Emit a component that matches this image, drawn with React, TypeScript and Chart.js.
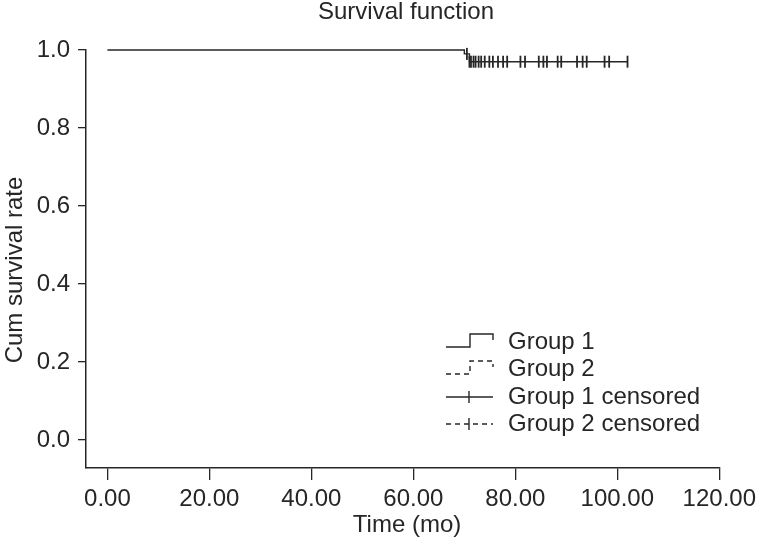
import React, { useEffect, useRef } from "react";
import { Chart, registerables } from "chart.js";

Chart.register(...registerables);

const chartTitle = "Survival function";
const xAxisTitle = "Time (mo)";
const yAxisTitle = "Cum survival rate";
const xTicks = [0, 20, 40, 60, 80, 100, 120];
const yTicks = [0, 0.2, 0.4, 0.6, 0.8, 1.0];

// Group 1 Kaplan-Meier steps
const g1EventTimes = [0, 70, 71];
const g1Survival = [1.0, 0.99, 0.97];
const g1EndTime = 102;
const g1CensoredTimes = [70.5, 71.0, 71.3, 71.8, 72.2, 72.8, 73.3, 74.0, 74.9, 75.6, 76.6, 77.6, 78.4, 81.0, 81.9, 84.6, 85.5, 86.2, 88.3, 89.0, 92.1, 93.2, 94.0, 97.5, 98.4, 102.0];

const legendLabels = ["Group 1", "Group 2", "Group 1 censored", "Group 2 censored"];

const FONT = "'Liberation Sans', Arial, Helvetica, sans-serif";
const INK = "#262626";

function survivalAt(t: number) {
  let s = g1Survival[0];
  for (let i = 0; i < g1EventTimes.length; i++) {
    if (g1EventTimes[i] <= t) s = g1Survival[i];
  }
  return s;
}

function buildSteps() {
  const pts: { x: number; y: number }[] = [];
  for (let i = 0; i < g1EventTimes.length; i++) {
    if (i > 0) pts.push({ x: g1EventTimes[i], y: g1Survival[i - 1] });
    pts.push({ x: g1EventTimes[i], y: g1Survival[i] });
  }
  pts.push({ x: g1EndTime, y: g1Survival[g1Survival.length - 1] });
  return pts;
}

const overlayPlugin = {
  id: "overlay",
  afterDraw(chart: any) {
    const ctx = chart.ctx;
    ctx.save();
    ctx.fillStyle = INK;
    ctx.strokeStyle = INK;
    ctx.font = `24px ${FONT}`;
    ctx.textAlign = "center";
    ctx.textBaseline = "middle";
    ctx.fillText(chartTitle, 406, 12);
    ctx.fillText(xAxisTitle, 407, 525);
    ctx.save();
    ctx.translate(15, 270);
    ctx.rotate(-Math.PI / 2);
    ctx.fillText(yAxisTitle, 0, 0);
    ctx.restore();

    // legend
    const rowsY = [342, 369, 397, 424];
    const sx = 446;
    ctx.textAlign = "left";
    ctx.lineWidth = 1.4;
    for (let i = 0; i < legendLabels.length; i++) {
      const y = rowsY[i];
      ctx.fillText(legendLabels[i], 508, y);
      ctx.beginPath();
      if (i === 0 || i === 1) {
        ctx.setLineDash(i === 1 ? [5, 4] : []);
        ctx.moveTo(sx, y + 5);
        ctx.lineTo(sx + 24, y + 5);
        ctx.lineTo(sx + 24, y - 8);
        ctx.lineTo(sx + 47, y - 8);
        ctx.lineTo(sx + 47, y - 2);
        ctx.stroke();
      } else {
        ctx.setLineDash(i === 3 ? [5, 4] : []);
        ctx.moveTo(sx, y);
        ctx.lineTo(sx + 47, y);
        ctx.stroke();
        ctx.setLineDash([]);
        ctx.beginPath();
        ctx.moveTo(sx + 23, y - 6);
        ctx.lineTo(sx + 23, y + 6);
        ctx.stroke();
      }
    }
    ctx.setLineDash([]);
    ctx.restore();
  },
};

export default function App() {
  const ref = useRef<HTMLCanvasElement | null>(null);
  useEffect(() => {
    const canvas = ref.current;
    if (!canvas) return;
    const censorPts = g1CensoredTimes.map((t) => ({ x: t, y: survivalAt(t) }));
    const chart = new Chart(canvas, {
      type: "scatter",
      data: {
        datasets: [
          {
            label: "Group 1",
            data: buildSteps(),
            showLine: true,
            borderColor: INK,
            borderWidth: 1.4,
            pointRadius: 0,
            fill: false,
          },
          {
            label: "Group 1 censored",
            data: censorPts,
            showLine: false,
            pointStyle: "line",
            rotation: 90,
            pointRadius: 6,
            borderColor: INK,
            borderWidth: 1.8,
          },
        ],
      },
      options: {
        responsive: false,
        animation: false,
        clip: false,
        layout: { padding: { left: 0, right: 38, top: 50, bottom: 0 } },
        plugins: { legend: { display: false }, tooltip: { enabled: false }, title: { display: false } },
        scales: {
          x: {
            type: "linear",
            min: -4.2,
            max: 120,
            afterBuildTicks: (s: any) => {
              s.ticks = xTicks.map((v) => ({ value: v }));
            },
            afterFit: (s: any) => {
              s.height = 74;
            },
            grid: { drawOnChartArea: false, tickLength: 12, color: INK, lineWidth: 1.3 },
            border: { color: INK, width: 1.5 },
            ticks: {
              color: INK,
              font: { family: FONT, size: 24 },
              padding: 5,
              maxRotation: 0,
              callback: (v: any) => Number(v).toFixed(2),
            },
          },
          y: {
            type: "linear",
            min: -0.072,
            max: 1.0,
            afterBuildTicks: (s: any) => {
              s.ticks = yTicks.map((v) => ({ value: v }));
            },
            afterFit: (s: any) => {
              s.width = 86;
            },
            grid: { drawOnChartArea: false, tickLength: 8, color: INK, lineWidth: 1.3 },
            border: { color: INK, width: 1.5 },
            ticks: {
              color: INK,
              font: { family: FONT, size: 24 },
              padding: 8,
              callback: (v: any) => Number(v).toFixed(1),
            },
          },
        },
      },
      plugins: [overlayPlugin],
    });
    return () => chart.destroy();
  }, []);
  return (
    <div style={{ position: "fixed", left: 0, top: 0, width: 761, height: 542, background: "#fff" }}>
      <canvas ref={ref} width={761} height={542} />
    </div>
  );
}
